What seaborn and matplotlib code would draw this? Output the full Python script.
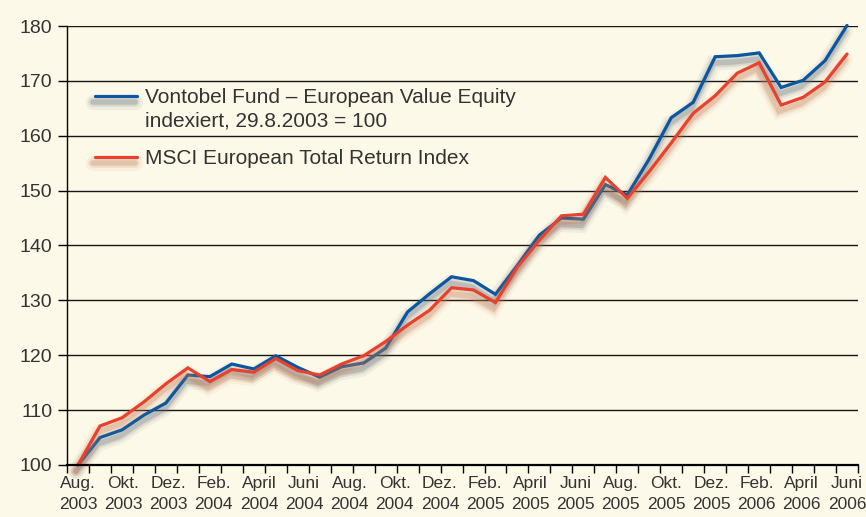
import numpy as np
import pandas as pd
import matplotlib
matplotlib.use("Agg")
import matplotlib.pyplot as plt
import seaborn as sns
from matplotlib import patheffects as pe
from matplotlib.legend_handler import HandlerLine2D

# monthly index values, Aug 2003 .. Jul 2006 (29.8.2003 = 100)
months = pd.date_range("2003-08-01", periods=36, freq="MS")
fund = [100, 105.0, 106.4, 109.1, 111.3, 116.4, 116.1, 118.4, 117.5, 119.9,
        117.8, 116.0, 117.9, 118.6, 121.3, 127.9, 131.2, 134.3, 133.6, 131.1,
        136.4, 141.9, 145.0, 144.8, 151.1, 149.2, 155.8, 163.3, 166.1, 174.4,
        174.6, 175.1, 168.8, 170.1, 173.7, 180.1]
msci = [100, 107.1, 108.6, 111.5, 114.8, 117.7, 115.2, 117.4, 116.9, 119.4,
        117.2, 116.4, 118.4, 119.9, 122.5, 125.5, 128.2, 132.3, 131.9, 129.6,
        136.1, 141.0, 145.4, 145.7, 152.4, 148.6, 153.5, 158.7, 164.1, 167.3,
        171.4, 173.3, 165.6, 167.0, 169.8, 174.9]
fund_label = "Vontobel Fund – European Value Equity\nindexiert, 29.8.2003 = 100"
msci_label = "MSCI European Total Return Index"
tick_labels = ["Aug.\n2003", "Okt.\n2003", "Dez.\n2003", "Feb.\n2004", "April\n2004",
               "Juni\n2004", "Aug.\n2004", "Okt.\n2004", "Dez.\n2004", "Feb.\n2005",
               "April\n2005", "Juni\n2005", "Aug.\n2005", "Okt.\n2005", "Dez.\n2005",
               "Feb.\n2006", "April\n2006", "Juni\n2006"]
y_ticks = [100, 110, 120, 130, 140, 150, 160, 170, 180]

BG = "#fdf9e8"
BLUE = "#0a56a0"
RED = "#e8412e"
TXT = "#333333"

sns.set_theme(style="white")
plt.rcParams["font.family"] = ["Liberation Sans", "DejaVu Sans"]

n = len(months)
df = pd.DataFrame({
    "idx": list(range(n)) * 2,
    "value": fund + msci,
    "series": [fund_label] * n + [msci_label] * n,
})

fig = plt.figure(figsize=(8.66, 5.17), dpi=100, facecolor=BG)
ax = fig.add_axes([0.0774, 0.1006, 0.9134, 0.8491], facecolor=BG)

sns.lineplot(data=df, x="idx", y="value", hue="series",
             palette={fund_label: BLUE, msci_label: RED},
             linewidth=2.3, ax=ax, legend=False)


def soft_shadow(color):
    return [pe.SimpleLineShadow(offset=(-1.5, -4.5), shadow_color=color, alpha=0.08, linewidth=11),
            pe.SimpleLineShadow(offset=(-1.5, -4.5), shadow_color=color, alpha=0.14, linewidth=7),
            pe.SimpleLineShadow(offset=(-1.5, -4.5), shadow_color=color, alpha=0.25, linewidth=4),
            pe.Normal()]


line_fund, line_msci = ax.lines[0], ax.lines[1]
line_fund.set_path_effects(soft_shadow("#5f6a74"))
line_msci.set_path_effects(soft_shadow("#c07a52"))
for ln in ax.lines:
    ln.set_clip_on(False)
    ln.set_solid_joinstyle("miter")


class FirstLineHandler(HandlerLine2D):
    # put the legend sample next to the first text line
    def __init__(self, shift=0, **kw):
        super().__init__(**kw)
        self.shift = shift

    def create_artists(self, legend, orig_handle, xdescent, ydescent,
                       width, height, fontsize, trans):
        return super().create_artists(legend, orig_handle, xdescent,
                                      ydescent - 2 * self.shift, width, height,
                                      fontsize, trans)


leg = ax.legend(handles=[line_fund, line_msci], labels=[fund_label, msci_label],
                handler_map={line_fund: FirstLineHandler(shift=10)},
                loc="upper left", bbox_to_anchor=(0.0354, 0.858), frameon=False,
                fontsize=15, handlelength=2.0, handletextpad=0.4, labelspacing=0.9,
                borderpad=0, borderaxespad=0, labelcolor=TXT)
for t in leg.get_texts():
    t.set_linespacing(1.25)

ax.set_xlim(-0.5, n - 0.5)
ax.set_ylim(100, 180)
ax.set_xlabel("")
ax.set_ylabel("")

ax.set_xticks(np.arange(-0.5, n, 1), minor=True)
ax.set_xticks(np.linspace(0, n - 1, len(tick_labels)))
ax.set_xticklabels(tick_labels, fontsize=12.5, color=TXT, linespacing=1.5)
ax.set_yticks(y_ticks)
ax.set_yticklabels([str(v) for v in y_ticks], fontsize=14, color=TXT)

ax.tick_params(axis="x", which="major", bottom=True, length=0, pad=8)
ax.tick_params(axis="x", which="minor", bottom=True, length=6, width=1, color="black")
ax.tick_params(axis="y", left=True, length=6.5, width=1, color="black", pad=4)

ax.grid(axis="y", color="#151515", linewidth=1.0)
ax.grid(axis="x", visible=False)
ax.set_axisbelow(True)
for side in ["top", "right"]:
    ax.spines[side].set_visible(False)
ax.spines["left"].set_color("black")
ax.spines["left"].set_linewidth(1.0)
ax.spines["bottom"].set_color("black")
ax.spines["bottom"].set_linewidth(1.6)

fig.savefig("out.png", dpi=100, facecolor=BG)
